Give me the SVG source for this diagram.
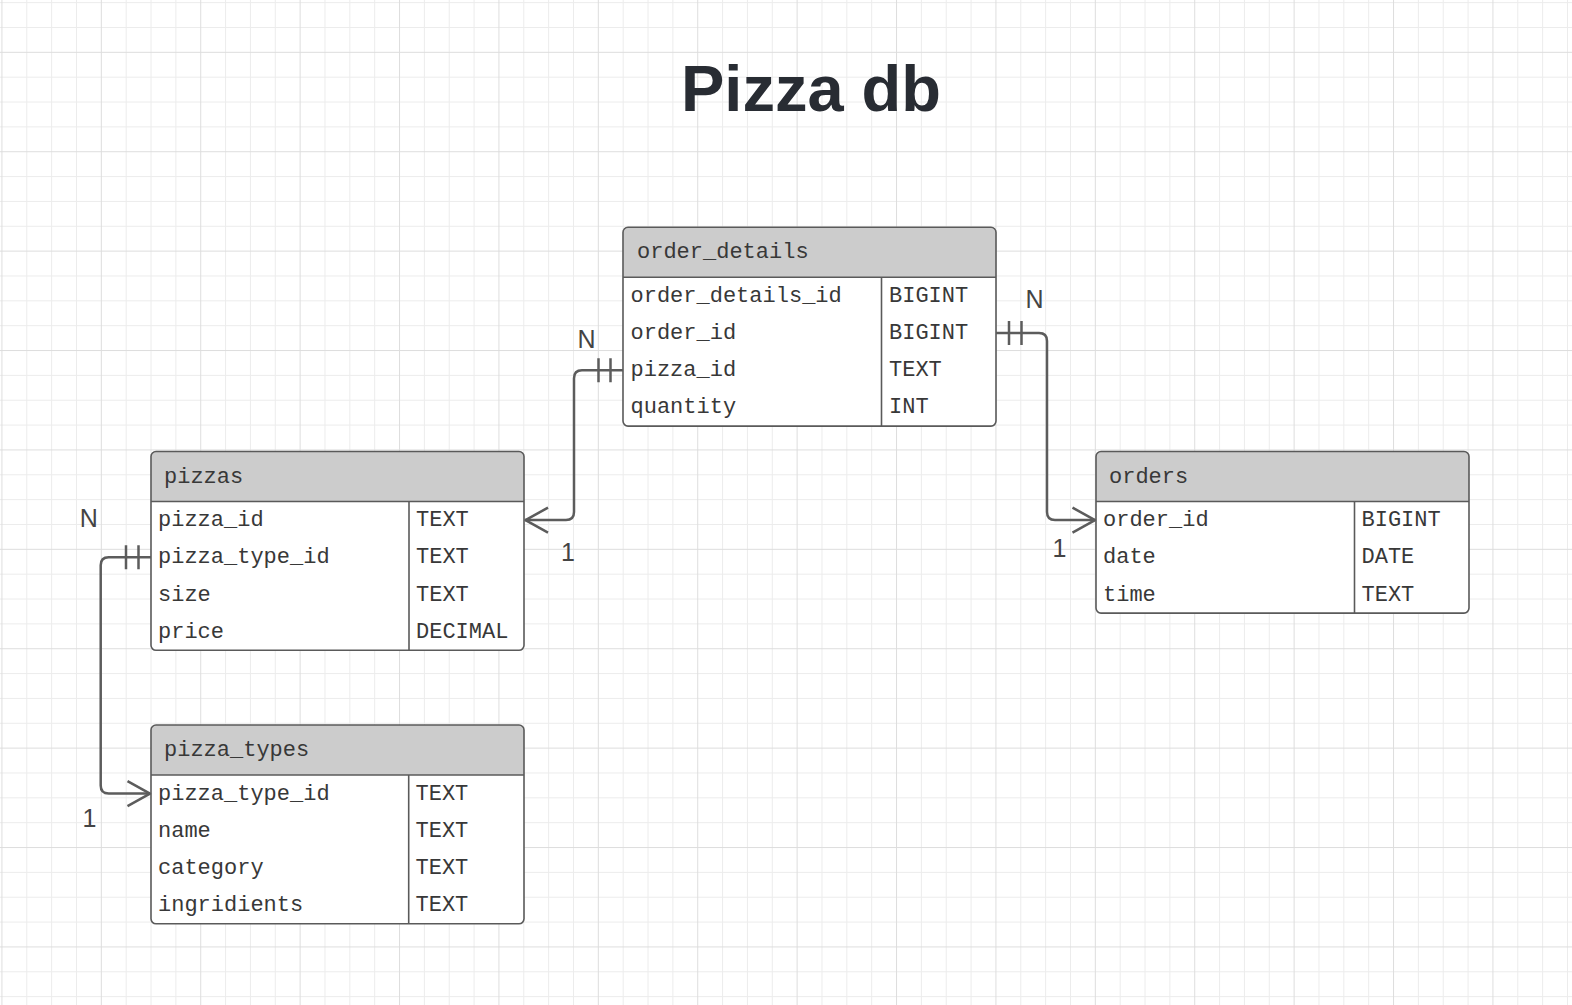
<svg xmlns="http://www.w3.org/2000/svg" width="1572" height="1005" viewBox="0 0 1572 1005">
  <defs>
    <pattern id="grid" patternUnits="userSpaceOnUse" x="-10.5" y="-9.8" width="99.4" height="99.4">
      <g stroke="#ececec" stroke-width="1">
        <line x1="37.275" y1="0" x2="37.275" y2="99.4"/>
        <line x1="62.125" y1="0" x2="62.125" y2="99.4"/>
        <line x1="86.975" y1="0" x2="86.975" y2="99.4"/>
        <line x1="0" y1="12.425" x2="99.4" y2="12.425"/>
        <line x1="0" y1="37.275" x2="99.4" y2="37.275"/>
        <line x1="0" y1="86.975" x2="99.4" y2="86.975"/>
      </g>
      <g stroke="#dddddd" stroke-width="1">
        <line x1="12.425" y1="0" x2="12.425" y2="99.4"/>
        <line x1="0" y1="62.125" x2="99.4" y2="62.125"/>
      </g>
    </pattern>
    <style>
      .body { fill: #ffffff; stroke: none; }
      .head { fill: #cccccc; stroke: none; }
      .frame { fill: none; stroke: #5a5a5a; stroke-width: 1.6; }
      .sep { stroke: #5a5a5a; stroke-width: 1.6; }
      .t { font-family: "Liberation Mono", "DejaVu Sans Mono", monospace; font-size: 22px; fill: #383838; }
      .title { font-family: "Liberation Sans", Arial, sans-serif; font-size: 65px; font-weight: bold; fill: #282c33; }
      .lbl { font-family: "Liberation Sans", Arial, sans-serif; font-size: 25px; fill: #444444; text-anchor: middle; }
      .conn { fill: none; stroke: #5c5c5c; stroke-width: 2.5; stroke-linejoin: round; }
    </style>
  </defs>

  <rect x="0" y="0" width="1572" height="1005" fill="#ffffff"/>
  <rect x="0" y="0" width="1572" height="1005" fill="url(#grid)"/>

  <text class="title" x="811" y="110.7" text-anchor="middle">Pizza db</text>

  <!-- order_details -->
  <g id="order_details" transform="translate(623,227.3)">
    <rect class="body" x="0" y="0" width="373" height="198.8" rx="5"/>
    <path class="head" d="M0,50 V5 A5,5 0 0 1 5,0 H368 A5,5 0 0 1 373,5 V50 Z"/>
    <line class="sep" x1="0" y1="50" x2="373" y2="50"/>
    <line class="sep" x1="258.5" y1="50" x2="258.5" y2="198.8"/>
    <rect class="frame" x="0" y="0" width="373" height="198.8" rx="5"/>
    <text class="t" x="14" y="31">order_details</text>
    <text class="t" x="7.5" y="74.6">order_details_id</text>
    <text class="t" x="7.5" y="111.8">order_id</text>
    <text class="t" x="7.5" y="149">pizza_id</text>
    <text class="t" x="7.5" y="186.2">quantity</text>
    <text class="t" x="266" y="74.6">BIGINT</text>
    <text class="t" x="266" y="111.8">BIGINT</text>
    <text class="t" x="266" y="149">TEXT</text>
    <text class="t" x="266" y="186.2">INT</text>
  </g>

  <!-- pizzas -->
  <g id="pizzas" transform="translate(151,451.5)">
    <rect class="body" x="0" y="0" width="373" height="198.8" rx="5"/>
    <path class="head" d="M0,50 V5 A5,5 0 0 1 5,0 H368 A5,5 0 0 1 373,5 V50 Z"/>
    <line class="sep" x1="0" y1="50" x2="373" y2="50"/>
    <line class="sep" x1="258" y1="50" x2="258" y2="198.8"/>
    <rect class="frame" x="0" y="0" width="373" height="198.8" rx="5"/>
    <text class="t" x="13" y="31">pizzas</text>
    <text class="t" x="7" y="74.6">pizza_id</text>
    <text class="t" x="7" y="111.8">pizza_type_id</text>
    <text class="t" x="7" y="149">size</text>
    <text class="t" x="7" y="186.2">price</text>
    <text class="t" x="265" y="74.6">TEXT</text>
    <text class="t" x="265" y="111.8">TEXT</text>
    <text class="t" x="265" y="149">TEXT</text>
    <text class="t" x="265" y="186.2">DECIMAL</text>
  </g>

  <!-- orders -->
  <g id="orders" transform="translate(1096,451.5)">
    <rect class="body" x="0" y="0" width="373" height="161.6" rx="5"/>
    <path class="head" d="M0,50 V5 A5,5 0 0 1 5,0 H368 A5,5 0 0 1 373,5 V50 Z"/>
    <line class="sep" x1="0" y1="50" x2="373" y2="50"/>
    <line class="sep" x1="258.5" y1="50" x2="258.5" y2="161.6"/>
    <rect class="frame" x="0" y="0" width="373" height="161.6" rx="5"/>
    <text class="t" x="13" y="31">orders</text>
    <text class="t" x="7" y="74.6">order_id</text>
    <text class="t" x="7" y="111.8">date</text>
    <text class="t" x="7" y="149">time</text>
    <text class="t" x="265.5" y="74.6">BIGINT</text>
    <text class="t" x="265.5" y="111.8">DATE</text>
    <text class="t" x="265.5" y="149">TEXT</text>
  </g>

  <!-- pizza_types -->
  <g id="pizza_types" transform="translate(151,725)">
    <rect class="body" x="0" y="0" width="373" height="198.8" rx="5"/>
    <path class="head" d="M0,50 V5 A5,5 0 0 1 5,0 H368 A5,5 0 0 1 373,5 V50 Z"/>
    <line class="sep" x1="0" y1="50" x2="373" y2="50"/>
    <line class="sep" x1="257.7" y1="50" x2="257.7" y2="198.8"/>
    <rect class="frame" x="0" y="0" width="373" height="198.8" rx="5"/>
    <text class="t" x="13" y="31">pizza_types</text>
    <text class="t" x="7" y="74.6">pizza_type_id</text>
    <text class="t" x="7" y="111.8">name</text>
    <text class="t" x="7" y="149">category</text>
    <text class="t" x="7" y="186.2">ingridients</text>
    <text class="t" x="264.5" y="74.6">TEXT</text>
    <text class="t" x="264.5" y="111.8">TEXT</text>
    <text class="t" x="264.5" y="149">TEXT</text>
    <text class="t" x="264.5" y="186.2">TEXT</text>
  </g>

  <!-- connectors -->
  <g id="connectors">
    <g id="conn-order_details-pizzas">
      <path class="conn" d="M623,370.3 H582 Q574,370.3 574,378.3 V512.1 Q574,520.1 566,520.1 H525"/>
      <path class="conn" d="M598.5,358.3 V382.3 M610.5,358.3 V382.3"/>
      <path class="conn" d="M548,507.6 L525.5,520.1 L548,532.6"/>
      <text class="lbl" x="586.5" y="348.3">N</text>
      <text class="lbl" x="568" y="560.7">1</text>
    </g>
    <g id="conn-order_details-orders">
      <path class="conn" d="M996,333.1 H1039 Q1047,333.1 1047,341.1 V512.1 Q1047,520.1 1055,520.1 H1095"/>
      <path class="conn" d="M1009,321.1 V345.1 M1021.5,321.1 V345.1"/>
      <path class="conn" d="M1072.5,507.6 L1095,520.1 L1072.5,532.6"/>
      <text class="lbl" x="1034.5" y="308.3">N</text>
      <text class="lbl" x="1059.5" y="556.7">1</text>
    </g>
    <g id="conn-pizzas-pizza_types">
      <path class="conn" d="M151,557.3 H108.7 Q100.7,557.3 100.7,565.3 V785.6 Q100.7,793.6 108.7,793.6 H150"/>
      <path class="conn" d="M126,545.3 V569.3 M138.5,545.3 V569.3"/>
      <path class="conn" d="M127.5,781.1 L150,793.6 L127.5,806.1"/>
      <text class="lbl" x="88.7" y="527.3">N</text>
      <text class="lbl" x="89.5" y="827.3">1</text>
    </g>
  </g>
</svg>
